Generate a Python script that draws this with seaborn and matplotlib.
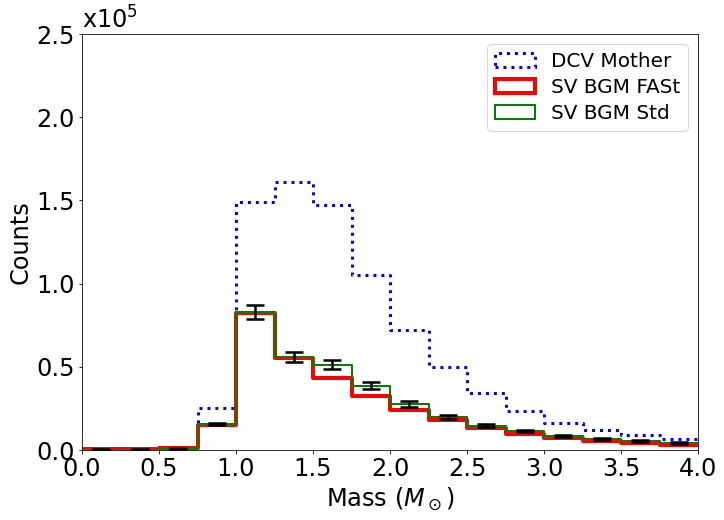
import matplotlib
matplotlib.use("Agg")
import matplotlib.pyplot as plt
from matplotlib.patches import Patch
from matplotlib.ticker import FuncFormatter
import numpy as np
import pandas as pd
import seaborn as sns

# mass bins (solar masses), width 0.25
edges = [0.0, 0.25, 0.5, 0.75, 1.0, 1.25, 1.5, 1.75, 2.0, 2.25, 2.5, 2.75, 3.0, 3.25, 3.5, 3.75, 4.0]
centers = [(a + b) / 2 for a, b in zip(edges[:-1], edges[1:])]

# counts per bin, in units of 1e5
dcv_mother = [0.0, 0.0, 0.02, 0.25, 1.49, 1.61, 1.475, 1.05, 0.72, 0.50, 0.345, 0.235, 0.16, 0.12, 0.09, 0.065]
sv_fast = [0.004, 0.004, 0.012, 0.152, 0.822, 0.553, 0.435, 0.327, 0.243, 0.18, 0.132, 0.098, 0.072, 0.053, 0.04, 0.03]
sv_std = [0.002, 0.002, 0.008, 0.157, 0.830, 0.558, 0.513, 0.385, 0.277, 0.200, 0.145, 0.115, 0.085, 0.066, 0.053, 0.042]
sv_std_err = [0.002, 0.002, 0.004, 0.007, 0.043, 0.029, 0.028, 0.021, 0.016, 0.012, 0.009, 0.008, 0.006, 0.005, 0.005, 0.004]
scale = 1e5

df = pd.DataFrame({
    'mass': centers,
    'dcv': np.array(dcv_mother) * scale,
    'fast': np.array(sv_fast) * scale,
    'std': np.array(sv_std) * scale,
    'err': np.array(sv_std_err) * scale,
})

plt.rcParams['font.family'] = ['DejaVu Sans']
fig = plt.figure(figsize=(724 / 72, 520 / 72), dpi=72)
ax = fig.add_axes([82 / 724, 70 / 520, 616 / 724, 416 / 520])

sns.histplot(data=df, x='mass', weights='dcv', bins=edges, element='step',
             fill=False, color='blue', linestyle=':', linewidth=3, ax=ax)
sns.histplot(data=df, x='mass', weights='fast', bins=edges, element='step',
             fill=False, color='red', linewidth=4, ax=ax)
sns.histplot(data=df, x='mass', weights='std', bins=edges, element='step',
             fill=False, color='green', linewidth=2, ax=ax)
ax.errorbar(df['mass'], df['std'], yerr=df['err'],
            fmt='none', ecolor='black', elinewidth=2.5, capsize=9, capthick=2.5, zorder=5)

ax.set_xlim(0, 4)
ax.set_ylim(0, 2.5 * scale)
ax.set_xticks(np.arange(0, 4.01, 0.5))
ax.set_yticks(np.arange(0, 2.51, 0.5) * scale)
ax.yaxis.set_major_formatter(FuncFormatter(lambda v, p: f"{v / scale:.1f}"))
ax.tick_params(labelsize=24)
ax.set_xlabel(r'Mass ($M_\odot$)', fontsize=24)
ax.set_ylabel('Counts', fontsize=24)
ax.text(0, 1.0, r'x10$^5$', transform=ax.transAxes, fontsize=24, va='bottom', ha='left')

handles = [
    Patch(facecolor='none', edgecolor='blue', linestyle=':', linewidth=3, label='DCV Mother'),
    Patch(facecolor='none', edgecolor='red', linewidth=4, label='SV BGM FASt'),
    Patch(facecolor='none', edgecolor='green', linewidth=2, label='SV BGM Std'),
]
ax.legend(handles=handles, loc='upper right', fontsize=20, labelspacing=0.35)

fig.savefig('out.png', dpi=72)
